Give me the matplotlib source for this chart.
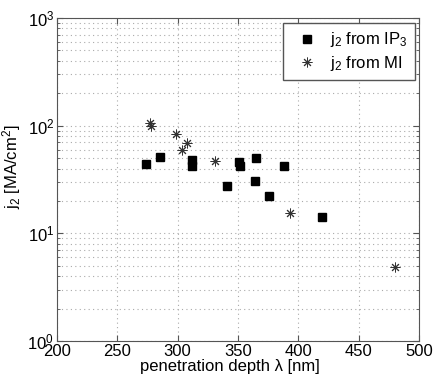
import matplotlib
matplotlib.use('Agg')
import matplotlib.pyplot as plt
import numpy as np

plt.rcParams['font.family'] = ['Liberation Sans', 'DejaVu Sans']
plt.rcParams['mathtext.fontset'] = 'custom'
plt.rcParams['mathtext.rm'] = 'Liberation Sans'
plt.rcParams['mathtext.it'] = 'Liberation Sans'

# j2 from IP3 (squares)
ip3_depth = [274, 285, 311.5, 311.5, 340.5, 351, 352, 365, 364, 376, 388, 420]
ip3_j2 = [44.5, 51.5, 48, 42, 27.5, 46, 42.5, 50.5, 30.5, 22.3, 42, 14.3]

# j2 from MI (asterisks)
mi_depth = [277, 278, 298.5, 307.5, 304, 331, 393, 480]
mi_j2 = [106, 100, 84, 69, 59, 46.5, 15.3, 4.9]

fig = plt.figure(figsize=(4.36, 3.82), dpi=100)
ax = fig.add_axes([0.1307, 0.1073, 0.8303, 0.8456])

ax.plot(ip3_depth, ip3_j2, linestyle='none', marker='s', markersize=5.2,
        color='black', label='j$_2$ from IP$_3$')
ax.plot(mi_depth, mi_j2, linestyle='none', marker=(8, 2, 0), markersize=7,
        color='#333333', markeredgewidth=0.7, label='j$_2$ from MI')

ax.set_yscale('log')
ax.set_xlim(200, 500)
ax.set_ylim(1, 1000)
ax.set_xticks(np.arange(200, 501, 50))

ax.grid(True, which='major', axis='x', linestyle=(0, (1, 3)), color='#aaaaaa', linewidth=0.8)
ax.grid(True, which='both', axis='y', linestyle=(0, (1, 3)), color='#aaaaaa', linewidth=0.8)

ax.tick_params(which='both', direction='in', top=True, right=True, labelsize=12,
               color='#555555', pad=2)
ax.tick_params(which='minor', length=2)
ax.tick_params(which='major', length=4)
for s in ax.spines.values():
    s.set_color('#555555')

ax.set_xlabel('penetration depth λ [nm]', fontsize=12)
ax.set_ylabel('j$_2$ [MA/cm$^2$]', fontsize=12)
ax.xaxis.set_label_coords(0.478, -0.055)
ax.yaxis.set_label_coords(-0.095, 0.54)

leg = ax.legend(loc='upper right', bbox_to_anchor=(0.989, 0.985), fontsize=12,
                fancybox=False, framealpha=1, edgecolor='#555555', borderaxespad=0,
                handlelength=2.0, handletextpad=0.4, borderpad=0.45, labelspacing=0.25)
leg.get_frame().set_linewidth(1.0)

fig.savefig('out.png', dpi=100)
